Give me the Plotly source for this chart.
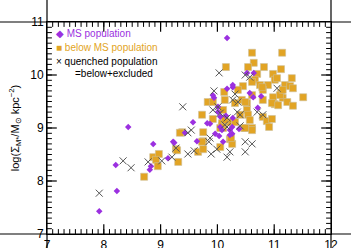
import plotly.graph_objects as go

# MS population (purple)
ms_x = [8.43, 8.87, 8.21, 8.83, 8.81, 8.23, 7.92, 9.13, 9.22, 10.17, 10.52, 10.64, 10.17, 10.27,
        9.94, 10.57, 10.63, 10.77, 10.01, 10.01, 10.05, 10.71, 9.57, 9.82, 9.87, 9.43, 9.64, 9.96,
        10.03, 10.08, 10.22, 10.26, 10.10, 10.38, 10.15, 10.27, 9.24, 10.27, 9.92, 10.05, 10.22, 10.26]
ms_y = [9.02, 8.70, 8.30, 8.28, 8.21, 7.81, 7.43, 8.43, 8.74, 10.70, 10.04, 10.04, 9.74, 9.77,
        9.57, 9.66, 9.58, 9.60, 9.40, 9.30, 9.21, 9.38, 9.11, 9.09, 9.08, 8.91, 8.75, 8.89,
        8.85, 8.96, 8.96, 8.89, 8.74, 8.98, 9.23, 9.19, 8.72, 9.81, 9.62, 9.02, 8.87, 9.02]

# below MS population (orange)
below_x = [10.61, 11.14, 10.64, 10.15, 10.54, 10.82, 11.12, 10.98, 10.70, 10.66, 11.01, 11.31,
           10.45, 10.75, 10.89, 11.19, 11.28, 11.33, 10.80, 10.36, 10.12, 10.13, 11.12, 10.98,
           11.15, 11.51, 9.83, 10.43, 10.52, 11.01, 11.23, 11.33, 9.73, 10.10, 10.52, 10.96,
           11.07, 10.80, 10.31, 10.40, 10.54, 11.05, 10.61, 10.80, 10.87, 10.96, 10.91, 10.61,
           11.10, 10.79, 11.15, 10.61, 10.47, 10.22, 10.26, 10.05, 9.75, 9.66, 9.38, 9.31, 9.27,
           10.08, 8.87, 8.97, 8.92, 8.95, 8.71, 9.29, 9.34, 9.92, 9.92, 9.75, 10.05, 10.10, 10.24,
           9.75, 10.49, 10.57, 10.49, 10.31, 10.19, 10.10, 10.61, 9.73, 10.08, 10.13]
below_y = [10.42, 10.42, 10.23, 10.15, 10.15, 10.15, 10.11, 10.02, 10.02, 9.91, 9.91, 9.94,
           9.79, 9.81, 9.81, 9.81, 9.79, 9.75, 9.72, 9.72, 9.68, 9.53, 9.66, 9.58,
           9.57, 9.58, 9.49, 9.53, 9.47, 9.45, 9.49, 9.42, 9.25, 9.34, 9.34, 9.47,
           9.43, 9.53, 9.47, 9.25, 9.25, 9.94, 9.87, 9.21, 9.13, 9.17, 9.02, 9.00,
           9.62, 9.77, 9.72, 8.96, 9.00, 8.79, 8.70, 8.64, 8.75, 8.55, 8.92, 8.36, 8.60,
           9.04, 8.45, 8.51, 8.40, 8.28, 8.08, 8.58, 8.91, 9.49, 9.17, 8.92, 9.00, 9.00, 8.81,
           8.60, 9.49, 9.15, 9.00, 9.11, 9.11, 9.06, 9.62, 8.74, 9.09, 9.15]

# quenched population (grey crosses)
q_x = [10.03, 10.49, 9.39, 9.94, 10.31, 10.27, 10.36, 9.92, 10.01, 10.70, 11.05, 10.57, 10.17,
       10.40, 9.54, 9.48, 9.59, 9.85, 9.89, 9.99, 10.17, 10.49, 10.61, 10.17, 10.40, 7.92, 8.34,
       8.48, 8.78, 9.02, 9.20, 9.27, 9.48, 9.87, 10.22, 10.49, 10.80, 10.05, 10.35, 10.13]
q_y = [10.04, 10.00, 9.40, 9.70, 9.64, 9.53, 9.49, 9.34, 9.40, 9.30, 9.75, 9.96, 9.19,
       9.25, 8.96, 8.51, 8.57, 8.74, 8.51, 8.60, 8.45, 8.74, 8.70, 9.02, 9.04, 7.77, 8.38,
       8.25, 8.36, 8.38, 8.45, 8.62, 8.91, 8.81, 8.55, 8.55, 9.25, 9.28, 9.30, 9.06]

X_RANGE = [7, 12]
Y_RANGE = [7, 11]

PURPLE = "#9B30E0"
ORANGE = "#E2A424"
GREY = "#555555"
FONT = "Liberation Sans"

W, H = 351, 248
ML, MR, MT, MB = 47, 20, 22, 14
PW, PH = W - ML - MR, H - MT - MB

fig = go.Figure()
fig.add_trace(go.Scatter(x=below_x, y=below_y, mode="markers",
                         marker=dict(symbol="square", size=7, color=ORANGE,
                                     line=dict(color="#CDBF98", width=0.6))))
fig.add_trace(go.Scatter(x=ms_x, y=ms_y, mode="markers",
                         marker=dict(symbol="diamond", size=5, color=PURPLE,
                                     line=dict(width=0))))
fig.add_trace(go.Scatter(x=q_x, y=q_y, mode="markers",
                         marker=dict(symbol="x-thin-open", size=7, color=GREY,
                                     line=dict(color=GREY, width=1))))

# Inside ticks on all four sides, drawn as line markers centred on the axis
# and clipped to the plotting area so only the inner half shows.
def tick_markers(step, length_px, width):
    n = int(round((X_RANGE[1] - X_RANGE[0]) / step))
    xs = [X_RANGE[0] + i * step for i in range(1, n)]
    fig.add_trace(go.Scatter(x=xs + xs, y=[Y_RANGE[0]] * len(xs) + [Y_RANGE[1]] * len(xs),
                             mode="markers", cliponaxis=True, hoverinfo="skip",
                             marker=dict(symbol="line-ns", size=2 * length_px, color="black",
                                         line=dict(color="black", width=width))))
    n = int(round((Y_RANGE[1] - Y_RANGE[0]) / step))
    ys = [Y_RANGE[0] + i * step for i in range(1, n)]
    fig.add_trace(go.Scatter(x=[X_RANGE[0]] * len(ys) + [X_RANGE[1]] * len(ys), y=ys + ys,
                             mode="markers", cliponaxis=True, hoverinfo="skip",
                             marker=dict(symbol="line-ew", size=2 * length_px, color="black",
                                         line=dict(color="black", width=width))))

tick_markers(0.1, 3.5, 1)
tick_markers(1.0, 7, 1.2)

# frame: long line markers along each edge
xmid = 0.5 * (X_RANGE[0] + X_RANGE[1])
ymid = 0.5 * (Y_RANGE[0] + Y_RANGE[1])
fig.add_trace(go.Scatter(x=[xmid, xmid], y=[Y_RANGE[0], Y_RANGE[1]], mode="markers",
                         cliponaxis=False, hoverinfo="skip",
                         marker=dict(symbol="line-ew", size=PW + 1, color="black",
                                     line=dict(color="black", width=1.2))))
fig.add_trace(go.Scatter(x=[X_RANGE[0], X_RANGE[1]], y=[ymid, ymid], mode="markers",
                         cliponaxis=False, hoverinfo="skip",
                         marker=dict(symbol="line-ns", size=PH + 1, color="black",
                                     line=dict(color="black", width=1.2))))

axis_common = dict(showline=True, linecolor="#000000", linewidth=1, mirror=True,
                   ticks="", showgrid=False, zeroline=False, tickmode="linear", dtick=1,
                   automargin=False, tickfont=dict(family=FONT, size=12, color="black"))

fig.update_xaxes(range=X_RANGE, tick0=X_RANGE[0], **axis_common)
fig.update_yaxes(range=Y_RANGE, tick0=Y_RANGE[0],
                 title=dict(text="log(Σ<sub>M*</sub>/M<sub>⊙</sub> kpc<sup>−2</sup>)",
                            font=dict(family=FONT, size=11, color="black"), standoff=8),
                 **axis_common)

ann_font = dict(family=FONT, size=10)
legend_lines = [
    ("◆ MS population", PURPLE, 0.025, 0.948),
    ("■ below MS population", ORANGE, 0.025, 0.882),
    ("× quenched population", "black", 0.025, 0.816),
    ("=below+excluded", "black", 0.092, 0.755),
]
for txt, col, ax, ay in legend_lines:
    fig.add_annotation(x=ax, y=ay, xref="paper", yref="paper", text=txt, showarrow=False,
                       xanchor="left", yanchor="middle", font=dict(color=col, **ann_font))

fig.update_layout(width=W, height=H,
                  margin=dict(l=ML, r=MR, t=MT, b=MB, autoexpand=False),
                  plot_bgcolor="white", paper_bgcolor="white", showlegend=False)

fig.write_html("out.html", config={"displayModeBar": False},
               post_script="document.body.style.margin='0';")
